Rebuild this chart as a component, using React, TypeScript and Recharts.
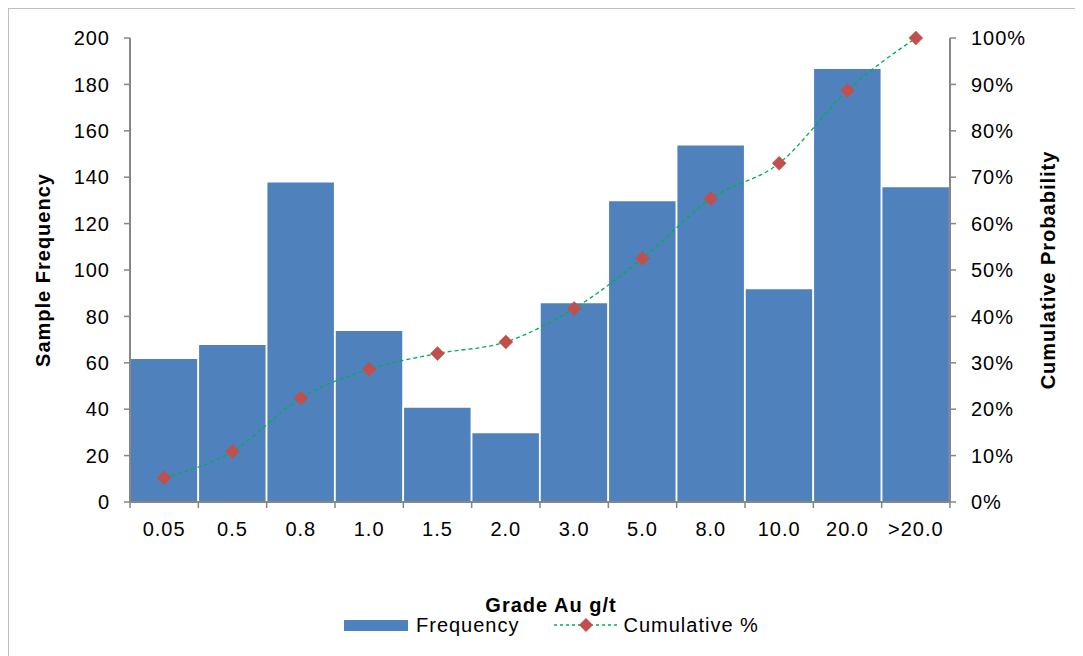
import { ComposedChart, Bar, Line, XAxis, YAxis, Legend } from 'recharts'

// ─── Data ─────────────────────────────────────────────────────────────────────

const GRADES = ['0.05', '0.5', '0.8', '1.0', '1.5', '2.0', '3.0', '5.0', '8.0', '10.0', '20.0', '>20.0']
const FREQUENCY = [62, 68, 138, 74, 41, 30, 86, 130, 154, 92, 187, 136]
const CUMULATIVE = [5.2, 10.9, 22.4, 28.6, 32.0, 34.5, 41.7, 52.5, 65.4, 73.0, 88.7, 100]
const LEFT_TICKS = [0, 20, 40, 60, 80, 100, 120, 140, 160, 180, 200]
const RIGHT_TICKS = [0, 10, 20, 30, 40, 50, 60, 70, 80, 90, 100]

// ─── Style ────────────────────────────────────────────────────────────────────

const FONT = '"Liberation Sans", Arial, sans-serif'
const AXIS = '#868686'
const BAR_BLUE = '#4f81bd'
const LINE_GREEN = '#00b050'
const MARKER_RED = '#c0504d'

const W = 1074
const H = 647
const PLOT_W = 820

const data = GRADES.map((g, i) => ({ grade: g, freq: FREQUENCY[i], cum: CUMULATIVE[i] }))

const tickStyle = { fill: '#000', fontSize: 20, fontFamily: FONT, letterSpacing: 1 }

// category tick: label in the middle, tick marks on band edges
const GradeTick = (props: any) => {
  const { x, y, payload, index } = props
  const half = PLOT_W / GRADES.length / 2
  const axisY = y - 20
  return (
    <g>
      <line x1={x - half} x2={x - half} y1={axisY} y2={axisY + 6} stroke={AXIS} strokeWidth={1.5} />
      {index === GRADES.length - 1 && (
        <line x1={x + half} x2={x + half} y1={axisY} y2={axisY + 6} stroke={AXIS} strokeWidth={1.5} />
      )}
      <text x={x} y={y} dy="0.71em" textAnchor="middle" {...tickStyle}>
        {payload.value}
      </text>
    </g>
  )
}

const Diamond = (props: any) => {
  const { cx, cy } = props
  if (cx == null || cy == null) return null
  const r = 7
  return (
    <polygon
      points={`${cx},${cy - r} ${cx + r},${cy} ${cx},${cy + r} ${cx - r},${cy}`}
      fill={MARKER_RED}
      stroke={MARKER_RED}
      strokeWidth={0.5}
    />
  )
}

const axisTitle = (text: string, shift: number) => (p: any) => {
  const vb = p.viewBox
  const cx = vb.x + shift
  const cy = vb.y + vb.height / 2
  return (
    <text
      x={cx}
      y={cy}
      dy="0.35em"
      textAnchor="middle"
      transform={`rotate(-90, ${cx}, ${cy})`}
      fontFamily={FONT}
      fontSize={20}
      fontWeight="bold"
      letterSpacing={1}
      fill="#000"
    >
      {text}
    </text>
  )
}

const LegendBox = () => (
  <div
    style={{
      display: 'flex',
      alignItems: 'center',
      fontFamily: FONT,
      fontSize: 20,
      letterSpacing: 1,
      color: '#000',
      height: 22,
      whiteSpace: 'nowrap',
    }}
  >
    <span style={{ width: 64, height: 11, background: BAR_BLUE, display: 'inline-block' }} />
    <span style={{ marginLeft: 8 }}>Frequency</span>
    <svg width={64} height={16} style={{ marginLeft: 34 }}>
      <line x1={0} x2={64} y1={8} y2={8} stroke={LINE_GREEN} strokeWidth={1.3} strokeDasharray="3 3" />
      <polygon points="32,1 39,8 32,15 25,8" fill={MARKER_RED} />
    </svg>
    <span style={{ marginLeft: 6 }}>Cumulative %</span>
  </div>
)

export default function App() {
  return (
    <div
      style={{
        position: 'relative',
        width: 1075,
        height: 648,
        boxSizing: 'border-box',
        borderTop: '1px solid #bfbfbf',
        borderLeft: '1px solid #bfbfbf',
        background: '#fff',
      }}
    >
      <ComposedChart
        width={W}
        height={H}
        data={data}
        margin={{ top: 29, right: 0, bottom: 20, left: 0 }}
        barCategoryGap={0}
        barGap={0}
      >
        <XAxis
          dataKey="grade"
          height={112}
          stroke={AXIS}
          axisLine={{ stroke: AXIS, strokeWidth: 2 }}
          tickLine={false}
          tickSize={6}
          tickMargin={14}
          interval={0}
          tick={<GradeTick />}
          label={{
            value: 'Grade Au g/t',
            position: 'insideBottom',
            offset: 2,
            fill: '#000',
            fontSize: 20,
            fontWeight: 'bold',
            fontFamily: FONT,
            letterSpacing: 1,
            dx: 11,
          }}
        />
        <YAxis
          yAxisId="left"
          width={121}
          domain={[0, 200]}
          ticks={LEFT_TICKS}
          interval={0}
          axisLine={{ stroke: AXIS, strokeWidth: 2 }}
          tickLine={{ stroke: AXIS, strokeWidth: 1.5 }}
          tickSize={6}
          tickMargin={14}
          tick={tickStyle}
          label={{ content: axisTitle('Sample Frequency', 34) }}
        />
        <YAxis
          yAxisId="right"
          orientation="right"
          width={133}
          domain={[0, 100]}
          ticks={RIGHT_TICKS}
          interval={0}
          tickFormatter={(v) => `${v}%`}
          axisLine={{ stroke: AXIS, strokeWidth: 2 }}
          tickLine={{ stroke: AXIS, strokeWidth: 1.5 }}
          tickSize={6}
          tickMargin={15}
          tick={tickStyle}
          label={{ content: axisTitle('Cumulative Probability', 98) }}
        />
        <Bar
          yAxisId="left"
          dataKey="freq"
          name="Frequency"
          fill={BAR_BLUE}
          stroke="#ffffff"
          strokeWidth={1.5}
          isAnimationActive={false}
        />
        <Line
          yAxisId="right"
          dataKey="cum"
          name="Cumulative %"
          type="monotone"
          stroke={LINE_GREEN}
          strokeWidth={1.3}
          strokeDasharray="4 3"
          dot={<Diamond />}
          activeDot={false}
          isAnimationActive={false}
        />
        <Legend
          verticalAlign="bottom"
          height={22}
          content={<LegendBox />}
          wrapperStyle={{ left: 335, width: 'auto' }}
        />
      </ComposedChart>
    </div>
  )
}
